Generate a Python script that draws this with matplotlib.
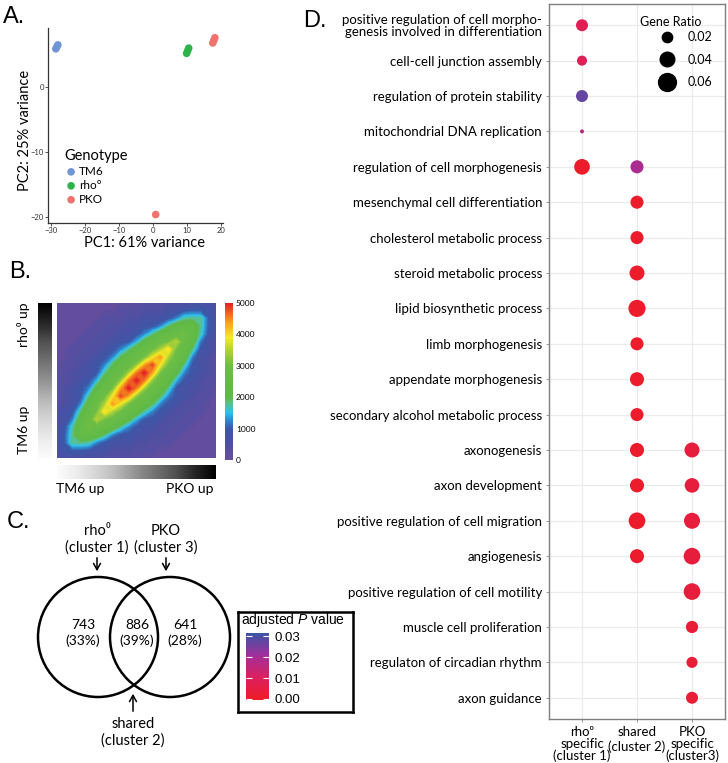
import numpy as np
import matplotlib
matplotlib.use('Agg')
import matplotlib.pyplot as plt
from matplotlib.colors import LinearSegmentedColormap, Normalize
from matplotlib.cm import ScalarMappable
from matplotlib.lines import Line2D
from matplotlib.patches import Circle

plt.rcParams['font.family'] = ['Lato', 'DejaVu Sans']
plt.rcParams['mathtext.fontset'] = 'custom'
plt.rcParams['mathtext.it'] = 'Liberation Sans:italic'
plt.rcParams['mathtext.rm'] = 'Liberation Sans'

# ---- A: PCA ----
tm6_pc1 = [-28.6, -28.3, -28.0]
tm6_pc2 = [5.9, 6.2, 6.5]
rho_pc1 = [9.9, 10.2, 10.5]
rho_pc2 = [5.2, 5.6, 6.0]
pko_pc1 = [17.6, 17.9, 18.2, 0.8]
pko_pc2 = [6.8, 7.2, 7.6, -19.6]

# ---- B: rank-rank overlap heatmap, counts in hundreds ----
# rows top (rho0 up) -> bottom (TM6 up), columns left (TM6 up) -> right (PKO up)
rrho_grid = [
    [2, 2, 2, 2, 2, 2, 2, 2, 2, 2, 4, 4, 4, 4, 5, 5, 5, 6, 6, 6, 5],
    [2, 2, 2, 2, 2, 2, 2, 2, 4, 4, 4, 5, 5, 5, 7, 7, 9, 10, 10, 9, 6],
    [2, 2, 2, 2, 2, 2, 4, 4, 4, 5, 5, 7, 7, 7, 9, 12, 17, 18, 18, 10, 6],
    [2, 2, 2, 2, 2, 4, 4, 5, 5, 7, 7, 9, 9, 12, 18, 23, 24, 25, 18, 10, 6],
    [2, 2, 2, 2, 4, 4, 5, 5, 7, 7, 9, 12, 17, 23, 26, 27, 30, 24, 17, 9, 5],
    [2, 2, 2, 4, 4, 5, 5, 7, 9, 9, 14, 21, 26, 28, 30, 35, 27, 23, 12, 7, 5],
    [2, 2, 4, 4, 5, 5, 7, 9, 12, 17, 23, 26, 29, 34, 40, 30, 26, 18, 9, 7, 5],
    [2, 2, 4, 5, 5, 7, 9, 12, 19, 24, 27, 30, 38, 44, 34, 28, 23, 12, 7, 5, 4],
    [2, 4, 4, 5, 7, 9, 12, 19, 24, 27, 32, 43, 48, 38, 29, 26, 17, 9, 7, 5, 4],
    [2, 4, 5, 7, 7, 9, 17, 24, 27, 33, 45, 50, 43, 30, 26, 21, 12, 9, 7, 5, 4],
    [4, 4, 5, 7, 9, 14, 23, 27, 32, 45, 50, 45, 32, 27, 23, 14, 9, 7, 5, 4, 4],
    [4, 5, 7, 9, 12, 21, 26, 30, 43, 50, 45, 33, 27, 24, 17, 9, 7, 7, 5, 4, 2],
    [4, 5, 7, 9, 17, 26, 29, 38, 48, 43, 32, 27, 24, 19, 12, 9, 7, 5, 4, 4, 2],
    [4, 5, 7, 12, 23, 28, 34, 44, 38, 30, 27, 24, 19, 12, 9, 7, 5, 5, 4, 2, 2],
    [5, 7, 9, 18, 26, 30, 40, 34, 29, 26, 23, 17, 12, 9, 7, 5, 5, 4, 4, 2, 2],
    [5, 7, 12, 23, 27, 35, 30, 28, 26, 21, 14, 9, 9, 7, 5, 5, 4, 4, 2, 2, 2],
    [5, 9, 17, 24, 30, 27, 26, 23, 17, 12, 9, 7, 7, 5, 5, 4, 4, 2, 2, 2, 2],
    [6, 10, 18, 25, 24, 23, 18, 12, 9, 9, 7, 7, 5, 5, 4, 4, 2, 2, 2, 2, 2],
    [6, 10, 18, 18, 17, 12, 9, 7, 7, 7, 5, 5, 4, 4, 4, 2, 2, 2, 2, 2, 2],
    [6, 9, 10, 10, 9, 7, 7, 5, 5, 5, 4, 4, 4, 2, 2, 2, 2, 2, 2, 2, 2],
    [5, 6, 6, 6, 5, 5, 5, 4, 4, 4, 4, 2, 2, 2, 2, 2, 2, 2, 2, 2, 2],
]
rrho_ticks = [0, 1000, 2000, 3000, 4000, 5000]

# ---- C: Venn ----
venn_counts = [743, 886, 641]
venn_pct = [33, 39, 28]

# ---- D: GO dot plot ----
go_terms = [
    'positive regulation of cell morpho-\ngenesis involved in differentiation',
    'cell-cell junction assembly',
    'regulation of protein stability',
    'mitochondrial DNA replication',
    'regulation of cell morphogenesis',
    'mesenchymal cell differentiation',
    'cholesterol metabolic process',
    'steroid metabolic process',
    'lipid biosynthetic process',
    'limb morphogenesis',
    'appendate morphogenesis',
    'secondary alcohol metabolic process',
    'axonogenesis',
    'axon development',
    'positive regulation of cell migration',
    'angiogenesis',
    'positive regulation of cell motility',
    'muscle cell proliferation',
    'regulaton of circadian rhythm',
    'axon guidance',
]
clusters = ['rho\u2070\nspecific\n(cluster 1)', 'shared\n(cluster 2)', 'PKO\nspecific\n(cluster3)']
dot_term = [1, 2, 3, 4, 5, 5, 6, 7, 8, 9, 10, 11, 12, 13, 13, 14, 14, 15, 15, 16, 16, 17, 18, 19, 20]
dot_cluster = [1, 1, 1, 1, 1, 2, 2, 2, 2, 2, 2, 2, 2, 2, 3, 2, 3, 2, 3, 2, 3, 3, 3, 3, 3]
gene_ratio = [0.027, 0.019, 0.027, 0.003, 0.046, 0.032, 0.032, 0.032, 0.042, 0.055, 0.032, 0.037,
              0.032, 0.037, 0.042, 0.037, 0.040, 0.052, 0.048, 0.037, 0.052, 0.052, 0.028, 0.023, 0.027]
padj = [0.008, 0.009, 0.027, 0.016, 0.0005, 0.019, 0.001, 0.001, 0.001, 0.001, 0.001, 0.001,
        0.001, 0.001, 0.004, 0.001, 0.004, 0.001, 0.004, 0.001, 0.004, 0.004, 0.003, 0.003, 0.003]
ratio_legend = [0.02, 0.04, 0.06]
p_ticks = [0.00, 0.01, 0.02, 0.03]

W, H = 728, 763
fig = plt.figure(figsize=(W / 100, H / 100), dpi=100)


def add_ax(x0, y0, x1, y1):
    return fig.add_axes([x0 / W, 1 - y1 / H, (x1 - x0) / W, (y1 - y0) / H])


def ftext(x, y, s, **kw):
    return fig.text(x / W, 1 - y / H, s, **kw)


def dot_size(r):
    return 2765 * np.asarray(r)


letter_kw = dict(fontsize=17, family=['Liberation Sans', 'DejaVu Sans'], va='baseline', ha='left')

# ================= A =================
ax = add_ax(48, 28, 223, 223)
ax.scatter(tm6_pc1, tm6_pc2, s=30, color='#6E96D4', edgecolors='none', label='TM6')
ax.scatter(rho_pc1, rho_pc2, s=30, color='#2DB34A', edgecolors='none', label='rho\u00b0')
ax.scatter(pko_pc1, pko_pc2, s=30, color='#F0736E', edgecolors='none', label='PKO')
ax.set_xlim(-30.9, 20.6)
ax.set_ylim(-20.9, 9.1)
ax.set_xticks([-30, -20, -10, 0, 10, 20])
ax.set_yticks([-20, -10, 0])
for s in ['top', 'right']:
    ax.spines[s].set_visible(False)
for s in ['left', 'bottom']:
    ax.spines[s].set_linewidth(0.9)
    ax.spines[s].set_color('#333333')
ax.tick_params(labelsize=5.5, length=2, width=0.6, pad=1, colors='#333333')
ax.patch.set_alpha(0)
ax.legend(loc='upper left', bbox_to_anchor=(64 / W, 1 - 149 / H), bbox_transform=fig.transFigure,
          frameon=False, title='Genotype', title_fontsize=10.5, fontsize=8.5,
          handletextpad=0.1, labelspacing=0.25, borderpad=0, handlelength=1.2,
          alignment='left', borderaxespad=0)
ftext(145, 243, 'PC1: 61% variance', fontsize=10.5, ha='center', va='center')
ftext(25, 130, 'PC2: 25% variance', fontsize=10.5, ha='center', va='center', rotation=90)
ftext(3, 23, 'A.', **letter_kw)

# ================= B =================
rrho_cmap = LinearSegmentedColormap.from_list('rrho', [
    (0.00, '#6A4C9C'), (0.12, '#4A50A2'), (0.20, '#3C58A8'), (0.26, '#2F8FD0'),
    (0.30, '#2EC1EE'), (0.36, '#5CBF8A'), (0.40, '#5DB947'), (0.60, '#6CBD45'),
    (0.70, '#B2D235'), (0.78, '#F5EA24'), (0.88, '#F8A01C'), (1.00, '#E41F26')])
rrho_norm = Normalize(0, 5000)
z = np.array(rrho_grid) * 100
ax_h = add_ax(57, 303, 216, 458)
xs = np.linspace(0, 1, z.shape[1])
ys = np.linspace(1, 0, z.shape[0])
ax_h.contourf(xs, ys, z, levels=np.linspace(0, 5000, 101), cmap=rrho_cmap, norm=rrho_norm, extend='both')
ax_h.set_xlim(0, 1)
ax_h.set_ylim(0, 1)
ax_h.axis('off')
cax = add_ax(225, 303, 233, 460)
cb = fig.colorbar(ScalarMappable(norm=rrho_norm, cmap=rrho_cmap), cax=cax, ticks=rrho_ticks)
cb.outline.set_visible(False)
cax.tick_params(length=0, labelsize=6, pad=2)

ax_gv = add_ax(38, 303, 52, 458)
ax_gv.imshow(np.linspace(1, 0.03, 256)[:, None], cmap='Greys', vmin=0, vmax=1, aspect='auto')
ax_gv.axis('off')
ax_gh = add_ax(57, 465, 216, 479)
ax_gh.imshow(np.linspace(0.03, 1, 256)[None, :], cmap='Greys', vmin=0, vmax=1, aspect='auto')
ax_gh.axis('off')
ftext(24, 325, 'rho\u2070 up', fontsize=10, rotation=90, ha='center', va='center')
ftext(24, 430, 'TM6 up', fontsize=10, rotation=90, ha='center', va='center')
ftext(56, 489, 'TM6 up', fontsize=10, ha='left', va='center')
ftext(214, 489, 'PKO up', fontsize=10, ha='right', va='center')
ftext(9, 278, 'B.', **letter_kw)

# ================= C =================
ax_v = add_ax(0, 500, 236, 763)
ax_v.set_xlim(0, 236)
ax_v.set_ylim(763, 500)
ax_v.axis('off')
ax_v.add_patch(Circle((98, 637), 60, fill=False, lw=1.8, color='black'))
ax_v.add_patch(Circle((170, 637), 60, fill=False, lw=1.8, color='black'))
for xc, n, p in zip([83, 137, 185], venn_counts, venn_pct):
    ax_v.text(xc, 633, f'{n}\n({p}%)', ha='center', va='center', fontsize=10, linespacing=1.35)
ax_v.text(97, 539, 'rho\u2070\n(cluster 1)', ha='center', va='center', fontsize=10.5, linespacing=1.2)
ax_v.text(166, 539, 'PKO\n(cluster 3)', ha='center', va='center', fontsize=10.5, linespacing=1.2)
ax_v.text(133, 732, 'shared\n(cluster 2)', ha='center', va='center', fontsize=10.5, linespacing=1.2)
arrow_kw = dict(arrowstyle='->,head_length=0.45,head_width=0.25', lw=1.1, color='black')
ax_v.annotate('', xy=(97, 574), xytext=(97, 555), arrowprops=arrow_kw)
ax_v.annotate('', xy=(166, 574), xytext=(166, 555), arrowprops=arrow_kw)
ax_v.annotate('', xy=(133, 691), xytext=(133, 714), arrowprops=arrow_kw)
ftext(7, 528, 'C.', **letter_kw)

# p-value legend box
p_cmap = LinearSegmentedColormap.from_list('padj', [
    (0.0, '#EE1C25'), (0.33, '#DD1F5E'), (0.66, '#A22E99'), (1.0, '#3A55A5')])
p_norm = Normalize(-0.0005, 0.0315)
box = add_ax(238, 612, 353, 712)
box.set_xticks([])
box.set_yticks([])
for s in box.spines.values():
    s.set_linewidth(1.8)
ftext(241, 620, 'adjusted $P$ value', fontsize=10, va='center', ha='left',
      family=['Liberation Sans', 'DejaVu Sans'])
cax2 = add_ax(246, 633, 269, 700)
cb2 = fig.colorbar(ScalarMappable(norm=p_norm, cmap=p_cmap), cax=cax2, ticks=p_ticks, format='%.2f')
cb2.outline.set_visible(False)
cax2.tick_params(axis='y', left=True, right=True, direction='in', color='white',
                 length=4, width=0.8, labelsize=9.5, pad=4)
for t in cax2.get_yticklabels():
    t.set_family(['Liberation Sans', 'DejaVu Sans'])

# ================= D =================
axd = add_ax(549, 4, 725, 719)
axd.scatter(dot_cluster, dot_term, s=dot_size(gene_ratio), c=padj, cmap=p_cmap, norm=p_norm,
            edgecolors='none', zorder=3)
axd.set_xlim(0.4, 3.6)
axd.set_ylim(20.6, 0.4)
axd.set_yticks(range(1, len(go_terms) + 1))
axd.set_yticklabels(go_terms, fontsize=9.5, linespacing=0.95)
axd.set_xticks([1, 2, 3])
axd.set_xticklabels(clusters, fontsize=9.5, linespacing=1.0)
axd.get_xticklabels()[1].set_linespacing(1.25)
axd.grid(color='#EBEBEB', lw=0.9, zorder=0)
axd.set_axisbelow(True)
axd.tick_params(length=2, width=0.6, color='#888888', pad=3)
for s in axd.spines.values():
    s.set_color('#7F7F7F')
    s.set_linewidth(1.0)
handles = [Line2D([], [], ls='', marker='o', color='black', markersize=52.6 * np.sqrt(r)) for r in ratio_legend]
axd.legend(handles, [f'{r:.2f}' for r in ratio_legend], loc='upper left',
           bbox_to_anchor=(657 / W, 1 - 31 / H), bbox_transform=fig.transFigure,
           frameon=False, fontsize=9, borderpad=0, borderaxespad=0,
           labelspacing=0.85, handlelength=1.6, handletextpad=0.85)
ftext(640, 22, 'Gene Ratio', fontsize=9, ha='left', va='center')
ftext(303, 27, 'D.', **letter_kw)

fig.savefig('out.png', dpi=100)
